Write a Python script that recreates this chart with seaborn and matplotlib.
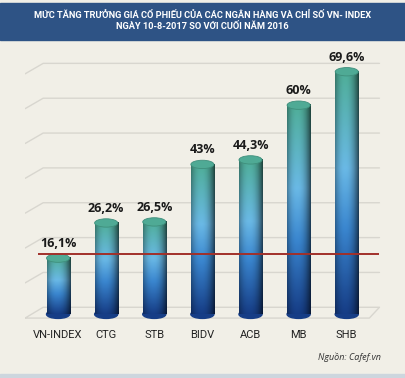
import numpy as np
import pandas as pd
import seaborn as sns
import matplotlib.pyplot as plt
from matplotlib.patches import Ellipse, Rectangle
from matplotlib.colors import LinearSegmentedColormap

categories = ['VN-INDEX', 'CTG', 'STB', 'BIDV', 'ACB', 'MB', 'SHB']
growth = [16.1, 26.2, 26.5, 43.0, 44.3, 60.0, 69.6]
title_lines = ['MỨC TĂNG TRƯỞNG GIÁ CỔ PHIẾU CỦA CÁC NGÂN HÀNG VÀ CHỈ SỐ VN- INDEX',
               'NGÀY 10-8-2017 SO VỚI CUỐI NĂM 2016']
source = 'Nguồn: Cafef.vn'

bg = '#f1efe7'
narrow = ['Roboto', 'DejaVu Sans']

sns.set_style('white')
plt.rcParams['font.family'] = ['Open Sans', 'DejaVu Sans']

df = pd.DataFrame({'bank': categories, 'growth': growth})

fig = plt.figure(figsize=(4.05, 3.78), dpi=100, facecolor=bg)
ax = fig.add_axes([0.062, 0.153, 0.888, 0.707])
ax.set_facecolor(bg)

sns.barplot(data=df, x='bank', y='growth', width=0.48, color='#3d7fc0', ax=ax, zorder=3)

# gradient cylinder look
cmap = LinearSegmentedColormap.from_list('cyl', [(0, '#163d86'), (0.35, '#3a86cf'),
                                                 (0.6, '#6ab9e6'), (1, '#4fae98')])
v = np.linspace(0, 1, 120)[:, None]
u = np.linspace(-1, 1, 40)[None, :]
shade = 1 - 0.45 * np.abs(u + 0.15) ** 2.2
img = cmap(np.repeat(v, 40, axis=1))[:, :, :3] * shade[:, :, None]
img = np.clip(img, 0, 1)

eh = 2.4
for p in ax.patches[:]:
    x0, w, h = p.get_x(), p.get_width(), p.get_height()
    p.set_visible(False)
    ax.imshow(img, extent=[x0, x0 + w, 0, h], origin='lower', aspect='auto',
              zorder=3, interpolation='bilinear')
    ax.add_patch(Ellipse((x0 + w / 2, 0), w, eh, color='#163d86', zorder=2.9))
    ax.add_patch(Ellipse((x0 + w / 2, h), w, eh, facecolor='#4faa95',
                         edgecolor='#3f8f7c', lw=0.6, zorder=3.2))

# back wall gridlines with perspective stubs
floor = 2
for k in range(1, 8):
    y = floor + 10 * k
    ax.plot([-0.685, -0.31, 6.68], [y - 3, y, y], color='#d8d6cf', lw=1, zorder=1)
ax.plot([-0.685, -0.31, 6.68, 6.47, -0.685], [floor - 3.1, floor, floor, floor - 3.1, floor - 3.1],
        color='#d8d6cf', lw=1, zorder=1)

# VN-INDEX reference line at the top rim of its cylinder
ax.hlines(growth[0] + eh / 2, -0.415, 6.68, color='#a1302a', lw=1.4, zorder=4)

for i, val in enumerate(growth):
    label = f'{val:g}'.replace('.', ',') + '%'
    ax.annotate(label, (i, val), xytext=(0, 10.5), textcoords='offset points',
                ha='center', va='center', fontsize=9, fontweight='bold', color='#1a1a1a')

ax.set_xlim(-0.685, 6.79)
ax.set_ylim(-1.7, 75)
ax.set_xlabel('')
ax.set_ylabel('')
ax.set_yticks([])
ax.tick_params(axis='x', length=0, pad=7, labelsize=8, colors='#222222')
for t in ax.get_xticklabels():
    t.set_family(narrow)
sns.despine(ax=ax, left=True, bottom=True)

fig.add_artist(Rectangle((0, 0.894), 1, 0.098, transform=fig.transFigure,
                         color='#2e5385', zorder=0))
fig.add_artist(Rectangle((0, 0), 1, 4 / 378, transform=fig.transFigure,
                         color='#cdd6de', zorder=0))
fig.text(0.5, 0.958, title_lines[0], ha='center', va='center', color='white',
         fontsize=6.7, fontweight='bold', family=narrow)
fig.text(0.5, 0.93, title_lines[1], ha='center', va='center', color='white',
         fontsize=6.7, fontweight='bold', family=narrow)
fig.text(0.941, 0.056, source, ha='right', va='center', fontsize=6.5,
         style='italic', color='#333333')

fig.savefig('out.png', dpi=100, facecolor=bg)
